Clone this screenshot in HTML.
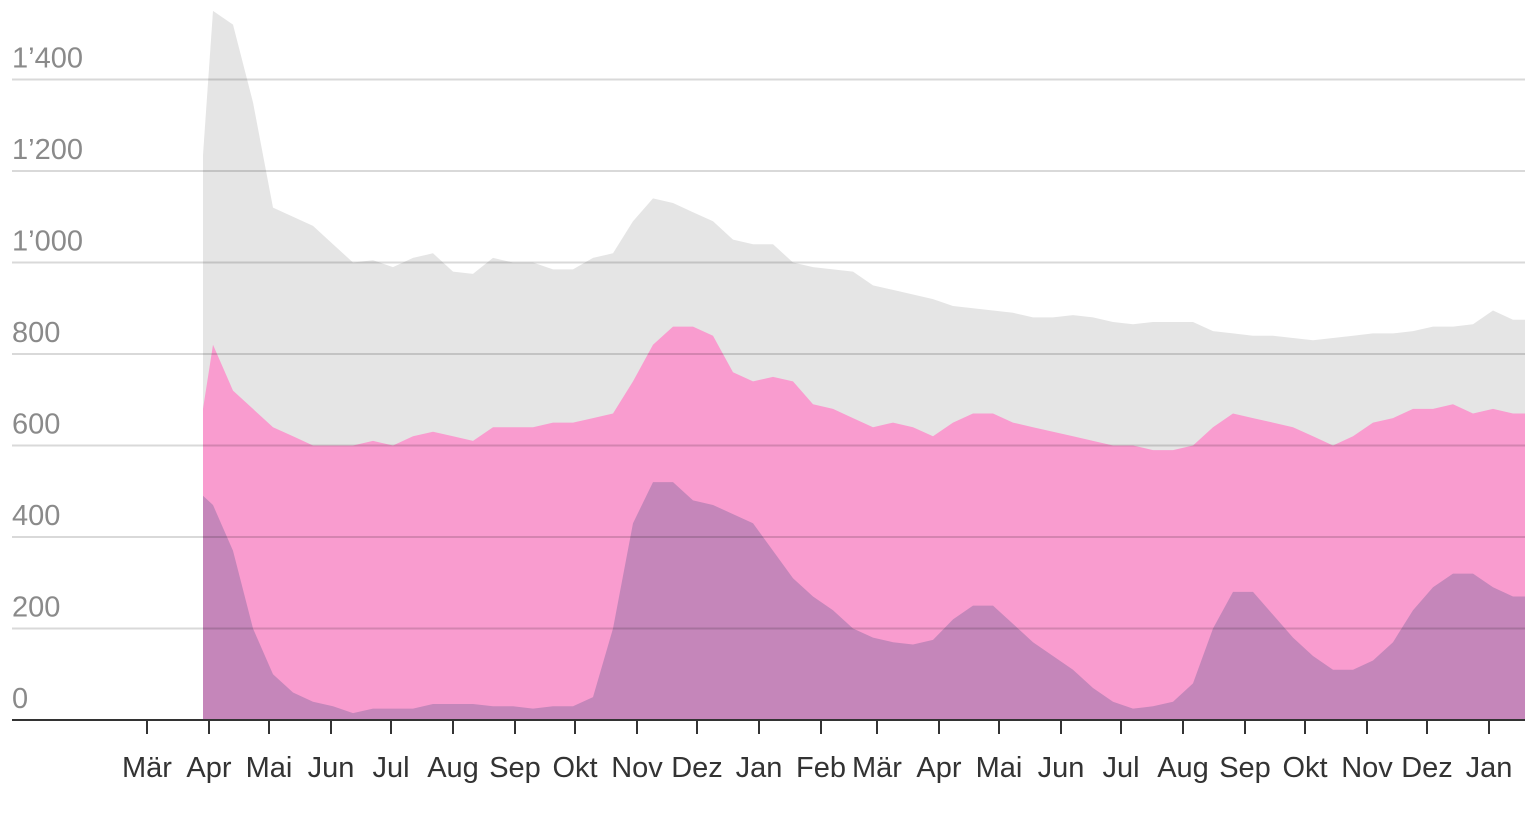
<!DOCTYPE html>
<html><head><meta charset="utf-8"><style>
html,body{margin:0;padding:0;background:#fff;width:1536px;height:827px;overflow:hidden}
svg{display:block;font-family:"Liberation Sans",sans-serif}
</style></head><body>
<svg id="chart" width="1536" height="827" viewBox="0 0 1536 827" xmlns="http://www.w3.org/2000/svg">
<g id="areas"></g>
<g id="grid"></g>
<g id="yaxis"></g>
<g id="xaxis"></g>
</svg>
<script>
const days = [28,38,48,58,68,78,88,98,108,118,128,138,148,158,168,178,188,198,208,218,228,238,248,258,268,278,288,298,308,318,328,338,348,358,368,378,388,398,408,418,428,438,448,458,468,478,488,498,508,518,528,538,548,558,568,578,588,598,608,618,628,638,648,658,668,678,688];
const totalSeries = [1235,1550,1520,1350,1120,1100,1080,1040,1000,1005,990,1010,1020,980,975,1010,1000,1000,985,985,1010,1020,1090,1140,1130,1110,1090,1050,1040,1040,1000,990,985,980,950,940,930,920,905,900,895,890,880,880,885,880,870,865,870,870,870,850,845,840,840,835,830,835,840,845,845,850,860,860,865,895,875];
const pinkSeries = [680,820,720,680,640,620,600,600,600,610,600,620,630,620,610,640,640,640,650,650,660,670,740,820,860,860,840,760,740,750,740,690,680,660,640,650,640,620,650,670,670,650,640,630,620,610,600,600,590,590,600,640,670,660,650,640,620,600,620,650,660,680,680,690,670,680,670];
const purpleSeries = [490,470,370,200,100,60,40,30,15,25,25,25,35,35,35,30,30,25,30,30,50,200,430,520,520,480,470,450,430,370,310,270,240,200,180,170,165,175,220,250,250,210,170,140,110,70,40,25,30,40,80,200,280,280,230,180,140,110,110,130,170,240,290,320,320,290,270];
const yTicks = [0,200,400,600,800,1000,1200,1400];
const yTickLabels = ["0","200","400","600","800","1’000","1’200","1’400"];
const monthDays = [0,31,61,92,122,153,184,214,245,275,306,337,365,396,426,457,487,518,549,579,610,640,671];
const monthLabels = ["Mär","Apr","Mai","Jun","Jul","Aug","Sep","Okt","Nov","Dez","Jan","Feb","Mär","Apr","Mai","Jun","Jul","Aug","Sep","Okt","Nov","Dez","Jan"];

const NS="http://www.w3.org/2000/svg";
const x = d => 147 + d*2.0;
const y = v => 720 - v*0.4575;
function mk(tag){return document.createElementNS(NS,tag);}

function areaPath(vals){
  const n=Math.min(vals.length,days.length);
  let d="M"+x(days[0]).toFixed(1)+",720";
  for(let i=0;i<n;i++){
    const x0=i===0?x(days[0]):(x(days[i-1])+x(days[i]))/2;
    d+=" L"+x0.toFixed(1)+","+y(vals[i]).toFixed(1);
  }
  const xe=Math.min(1525,x(days[n-1])+8);
  d+=" L"+xe.toFixed(1)+","+y(vals[n-1]).toFixed(1);
  d+=" L"+xe.toFixed(1)+",720 Z";
  return d;
}
const areas=document.getElementById('areas');
[[totalSeries,'#e5e5e5','total-area'],[pinkSeries,'#f99ccf','pink-area'],[purpleSeries,'#c586ba','purple-area']].forEach(s=>{
  const p=mk('path');
  p.setAttribute('d',areaPath(s[0]));
  p.setAttribute('fill',s[1]);
  
  
  areas.appendChild(p);
});

const grid=document.getElementById('grid'), yax=document.getElementById('yaxis');
yTicks.forEach((v,i)=>{
  if(v>0){
    const l=mk('line');
    l.setAttribute('x1',12);l.setAttribute('x2',1525);
    l.setAttribute('y1',y(v));l.setAttribute('y2',y(v));
    l.setAttribute('stroke','rgba(0,0,0,0.15)');l.setAttribute('stroke-width','2');
    
    
    grid.appendChild(l);
  }
  const t=mk('text');
  t.setAttribute('x',12);t.setAttribute('y',y(v)-12);
  t.setAttribute('font-size','29');t.setAttribute('fill','#8a8a8a');
  t.textContent=yTickLabels[i];
  
  
  yax.appendChild(t);
});

const xax=document.getElementById('xaxis');
const base=mk('line');
base.setAttribute('x1',12);base.setAttribute('x2',1525);base.setAttribute('y1',720);base.setAttribute('y2',720);
base.setAttribute('stroke','#333');base.setAttribute('stroke-width','2');


xax.appendChild(base);
monthDays.forEach((d,i)=>{
  const tk=mk('line');
  tk.setAttribute('x1',x(d));tk.setAttribute('x2',x(d));tk.setAttribute('y1',720);tk.setAttribute('y2',734);
  tk.setAttribute('stroke','#333');tk.setAttribute('stroke-width','2');
  
  
  xax.appendChild(tk);
  const t=mk('text');
  t.setAttribute('x',x(d));t.setAttribute('y',777);
  t.setAttribute('text-anchor','middle');t.setAttribute('font-size','29');t.setAttribute('fill','#333');
  t.textContent=monthLabels[i];
  
  
  xax.appendChild(t);
});
</script>
</body></html>
